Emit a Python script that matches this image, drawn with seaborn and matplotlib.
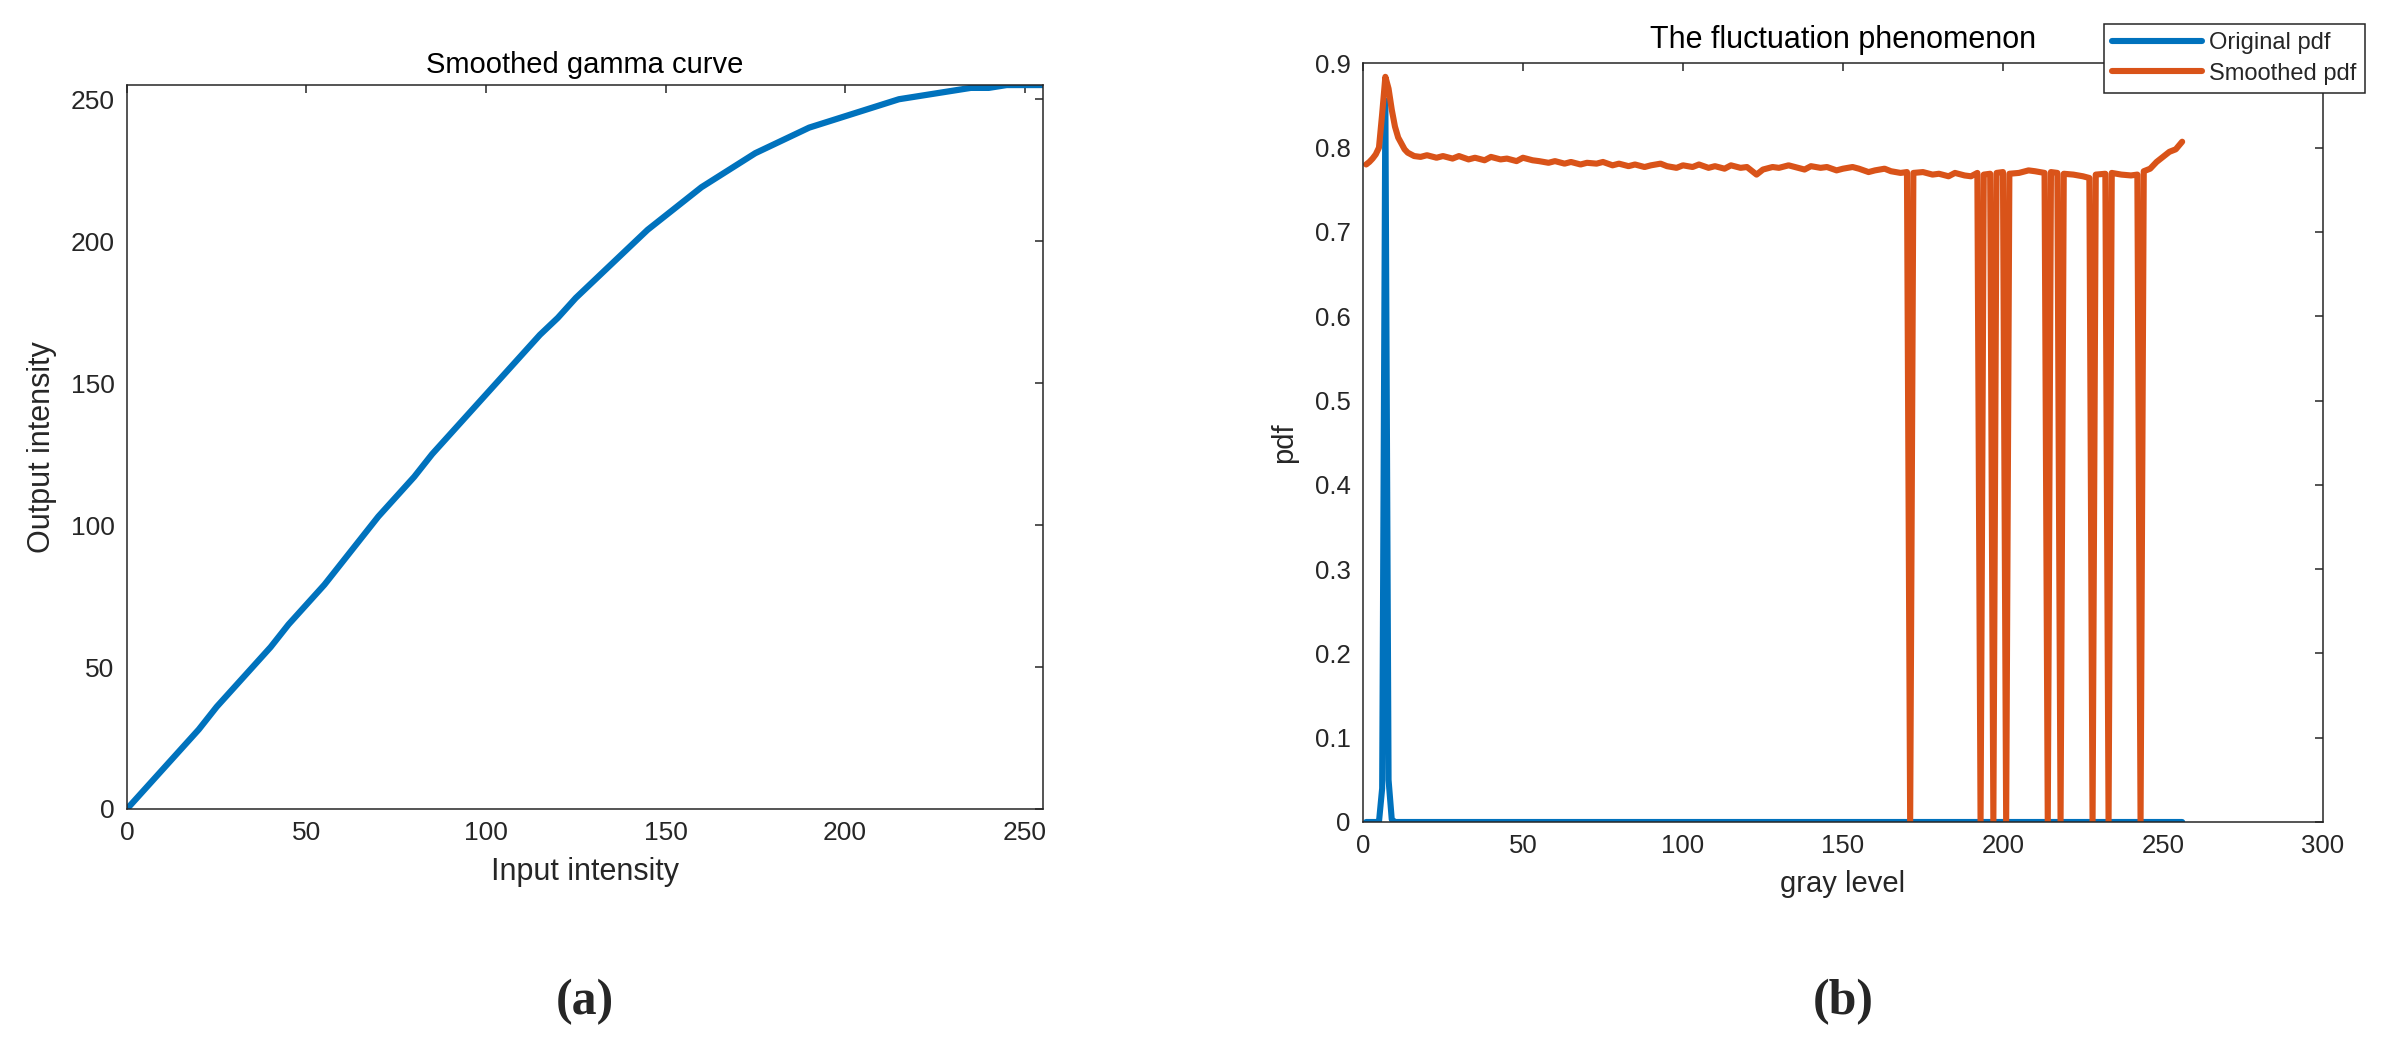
import matplotlib
matplotlib.use('Agg')
import matplotlib.pyplot as plt
import seaborn as sns
from matplotlib import font_manager

# Stil ayarları (MATLAB görünümü)
sns.set_style('white')
installed = {f.name for f in font_manager.fontManager.ttflist}
narrow = 'Liberation Sans Narrow' if 'Liberation Sans Narrow' in installed else 'Liberation Sans'
plt.rcParams['font.family'] = ['Liberation Sans', 'DejaVu Sans']
plt.rcParams['axes.unicode_minus'] = False

AX_COLOR = '#262626'
BLUE = '#0072BD'
ORANGE = '#D95319'

# (a) Smoothed gamma curve
gamma_in = [0, 5, 10, 15, 20, 25, 30, 35, 40, 45, 50, 55, 60, 65, 70, 75, 80, 85,
            90, 95, 100, 105, 110, 115, 120, 125, 130, 135, 140, 145, 150, 155,
            160, 165, 170, 175, 180, 185, 190, 195, 200, 205, 210, 215, 220, 225,
            230, 235, 240, 245, 250, 255]
gamma_out = [0, 7, 14, 21, 28, 36, 43, 50, 57, 65, 72, 79, 87, 95, 103, 110, 117, 125,
             132, 139, 146, 153, 160, 167, 173, 180, 186, 192, 198, 204, 209, 214,
             219, 223, 227, 231, 234, 237, 240, 242, 244, 246, 248, 250, 251, 252,
             253, 254, 254, 255, 255, 255]

# (b) The fluctuation phenomenon
orig_x = [1, 2, 3, 4, 5, 6, 7, 8, 9, 10, 11, 50, 100, 150, 200, 256]
orig_pdf = [0, 0, 0, 0, 0, 0.04, 0.856, 0.05, 0.003, 0, 0, 0, 0, 0, 0, 0]

smooth_x = [1, 2, 3, 4, 5, 6, 7, 8, 9, 10, 11, 12, 13, 14, 16, 18, 20, 23, 25, 28,
            30, 33, 35, 38, 40, 43, 45, 48, 50, 53, 55, 58, 60, 63, 65, 68, 70, 73,
            75, 78, 80, 83, 85, 88, 90, 93, 95, 98, 100, 103, 105, 108, 110, 113,
            115, 118, 120, 123, 125, 128, 130, 133, 135, 138, 140, 143, 145, 148,
            150, 153, 155, 158, 160, 163, 165, 168, 170, 171, 172, 175, 178, 180,
            183, 185, 188, 190, 192, 193, 194, 196, 197, 198, 200, 201, 202, 205,
            208, 210, 213, 214, 215, 217, 218, 219, 222, 225, 227, 228, 229, 232,
            233, 234, 237, 240, 242, 243, 244, 246, 248, 250, 252, 254, 256]
smooth_pdf = [0.780, 0.783, 0.787, 0.792, 0.800, 0.840, 0.884, 0.870, 0.845, 0.825,
              0.812, 0.805, 0.798, 0.794, 0.790, 0.789, 0.791, 0.788, 0.790, 0.787,
              0.790, 0.786, 0.788, 0.785, 0.789, 0.786, 0.787, 0.784, 0.788, 0.785,
              0.784, 0.782, 0.784, 0.781, 0.783, 0.780, 0.782, 0.781, 0.783, 0.779,
              0.781, 0.778, 0.780, 0.777, 0.779, 0.781, 0.778, 0.776, 0.779, 0.777,
              0.780, 0.776, 0.778, 0.775, 0.779, 0.776, 0.777, 0.768, 0.774, 0.777,
              0.776, 0.779, 0.777, 0.774, 0.778, 0.776, 0.777, 0.773, 0.775, 0.777,
              0.775, 0.771, 0.773, 0.775, 0.772, 0.770, 0.771, 0.0, 0.770, 0.771,
              0.768, 0.769, 0.766, 0.770, 0.767, 0.766, 0.770, 0.0, 0.768, 0.769,
              0.0, 0.770, 0.771, 0.0, 0.769, 0.770, 0.773, 0.772, 0.770, 0.0, 0.771,
              0.770, 0.0, 0.769, 0.768, 0.766, 0.764, 0.0, 0.768, 0.769, 0.0, 0.770,
              0.768, 0.767, 0.768, 0.0, 0.772, 0.775, 0.783, 0.789, 0.795, 0.798,
              0.807]


def matlab_axes(ax, tick_size):
    ax.tick_params(direction='in', top=True, right=True, length=6, width=1.1,
                   colors=AX_COLOR, labelsize=tick_size, pad=9)
    for sp in ax.spines.values():
        sp.set_visible(True)
        sp.set_color(AX_COLOR)
        sp.set_linewidth(1.1)


fig = plt.figure(figsize=(24, 10.59), dpi=100)

# --- (a) ---
ax1 = fig.add_axes([0.0529, 0.2361, 0.3815, 0.6836])
sns.lineplot(x=gamma_in, y=gamma_out, ax=ax1, color=BLUE, linewidth=4.5,
             estimator=None, sort=False)
ax1.set_xlim(0, 255)
ax1.set_ylim(0, 255)
ax1.set_xticks(range(0, 251, 50))
ax1.set_yticks(range(0, 251, 50))
matlab_axes(ax1, 19)
for lbl in ax1.get_xticklabels() + ax1.get_yticklabels():
    lbl.set_family([narrow, 'DejaVu Sans'])
ax1.set_title('Smoothed gamma curve', fontsize=21, color='black', pad=9,
              family=[narrow, 'DejaVu Sans'])
ax1.set_xlabel('Input intensity', fontsize=22, color=AX_COLOR, labelpad=8,
               family=[narrow, 'DejaVu Sans'])
ax1.set_ylabel('Output intensity', fontsize=22, color=AX_COLOR, labelpad=10,
               family=[narrow, 'DejaVu Sans'])

# --- (b) ---
ax2 = fig.add_axes([0.5679, 0.2238, 0.4, 0.7164])
sns.lineplot(x=orig_x, y=orig_pdf, ax=ax2, color=BLUE, linewidth=4.4,
             estimator=None, sort=False, label='Original pdf')
sns.lineplot(x=smooth_x, y=smooth_pdf, ax=ax2, color=ORANGE, linewidth=4.4,
             estimator=None, sort=False, label='Smoothed pdf')
ax2.set_xlim(0, 300)
ax2.set_ylim(0, 0.9)
ax2.set_xticks(range(0, 301, 50))
ax2.set_yticks([i / 10 for i in range(10)])
ax2.set_yticklabels(['0'] + [f'{i / 10:.1f}' for i in range(1, 10)])
matlab_axes(ax2, 18.5)
ax2.set_title('The fluctuation phenomenon', fontsize=22, color='black', pad=11)
ax2.set_xlabel('gray level', fontsize=21, color=AX_COLOR, labelpad=8)
ax2.set_ylabel('pdf', fontsize=21, color=AX_COLOR, labelpad=12)

handles, labels = ax2.get_legend_handles_labels()
ax2.legend_.remove()
leg = fig.legend(handles, labels, loc='upper left', bbox_to_anchor=(0.8767, 0.9773),
                 bbox_transform=fig.transFigure, fontsize=17, frameon=True,
                 fancybox=False, framealpha=1, edgecolor=AX_COLOR,
                 handlelength=3.8, handletextpad=0.3, borderpad=0.35,
                 labelspacing=0.35, borderaxespad=0)
leg.get_frame().set_linewidth(1.1)

# Panel etiketleri
fig.text(0.2437, 0.054, '(a)', ha='center', va='center', fontsize=36,
         fontweight='bold', family=['Liberation Serif', 'DejaVu Serif'])
fig.text(0.7679, 0.054, '(b)', ha='center', va='center', fontsize=36,
         fontweight='bold', family=['Liberation Serif', 'DejaVu Serif'])

fig.savefig('out.png', dpi=100, facecolor='white')
plt.close('all')
